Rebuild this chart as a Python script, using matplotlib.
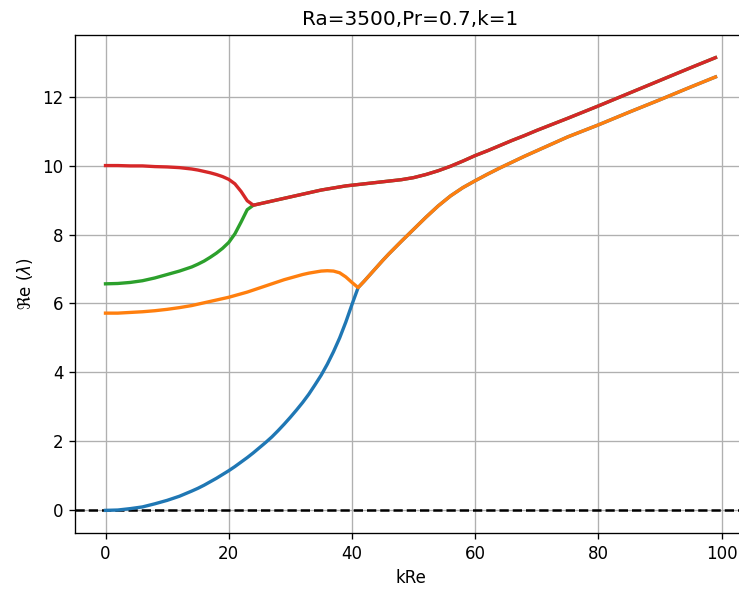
import matplotlib
matplotlib.use("Agg")
import matplotlib.pyplot as plt

# kRe sample positions
kre = [0, 2, 4, 6, 8, 10, 12,
       14, 15, 16, 17, 18, 19, 20, 21, 22, 23, 24, 25, 26, 27, 28, 29, 30,
       31, 32, 33, 34, 35, 36, 37, 38, 39, 40, 41, 42, 43, 44, 45, 46,
       48, 50, 52, 54, 56, 58, 60, 62, 64, 66, 68, 70,
       75, 80, 85, 90, 95, 99]

# Upper branch (red); the green branch merges into it at kRe ~ 24
red = [10.00, 10.00, 9.99, 9.99, 9.97, 9.96, 9.94,
       9.90, 9.87, 9.83, 9.79, 9.74, 9.68, 9.60, 9.47, 9.25, 8.98, 8.85, 8.89, 8.93, 8.97,
       9.01, 9.05, 9.09, 9.13, 9.17, 9.21, 9.25, 9.29, 9.32, 9.35, 9.38, 9.41, 9.43, 9.45,
       9.47, 9.49, 9.51, 9.53, 9.55,
       9.59, 9.65, 9.74, 9.85, 9.98, 10.13, 10.29, 10.43, 10.58, 10.73, 10.87, 11.02,
       11.37, 11.73, 12.10, 12.47, 12.84, 13.13]
green_head = [6.57, 6.58, 6.61, 6.66, 6.74, 6.84, 6.94,
              7.06, 7.14, 7.23, 7.34, 7.46, 7.60, 7.77, 8.02, 8.36, 8.72, 8.85]

# Lower branch (orange); the blue branch merges into it at kRe ~ 41
orange = [5.72, 5.72, 5.74, 5.76, 5.79, 5.83, 5.88,
          5.94, 5.98, 6.02, 6.06, 6.10, 6.14, 6.18, 6.23, 6.28, 6.33, 6.39, 6.45, 6.51, 6.57,
          6.63, 6.69, 6.74, 6.79, 6.84, 6.88, 6.91, 6.94, 6.95, 6.94, 6.89, 6.77, 6.61, 6.46,
          6.65, 6.85, 7.05, 7.25, 7.44,
          7.80, 8.15, 8.50, 8.83, 9.12, 9.36, 9.56, 9.75, 9.93, 10.10, 10.27, 10.43,
          10.83, 11.18, 11.55, 11.91, 12.28, 12.57]
blue_head = [0.00, 0.01, 0.05, 0.10, 0.19, 0.29, 0.41,
             0.56, 0.64, 0.73, 0.83, 0.93, 1.04, 1.15, 1.27, 1.40, 1.53, 1.67, 1.82, 1.97,
             2.13, 2.31, 2.50, 2.70, 2.91, 3.13, 3.37, 3.64, 3.92, 4.24, 4.60, 5.00, 5.46,
             5.97, 6.46]

n_blue = len(blue_head)
blue = blue_head + orange[n_blue:]
n_green = len(green_head)
green = green_head + red[n_green:]

title = "Ra=3500,Pr=0.7,k=1"
xlabel = "kRe"
ylabel = r"$\Re$e ($\lambda$)"

fig = plt.figure(figsize=(739 / 120, 592 / 120), dpi=120)
ax = fig.add_axes([75 / 739, (592 - 533) / 592, 671 / 739, (533 - 35) / 592])

ax.axhline(0, color="k", linestyle="--", linewidth=1.5)
ax.plot(kre, blue, color="tab:blue", linewidth=2)
ax.plot(kre, orange, color="tab:orange", linewidth=2)
ax.plot(kre, green, color="tab:green", linewidth=2)
ax.plot(kre, red, color="tab:red", linewidth=2)

ax.grid(True)
ax.set_title(title, fontsize=12)
ax.set_xlabel(xlabel)
ax.set_ylabel(ylabel)
ax.set_xticks([0, 20, 40, 60, 80, 100])
ax.set_yticks([0, 2, 4, 6, 8, 10, 12])

fig.savefig("out.png", dpi=120)
